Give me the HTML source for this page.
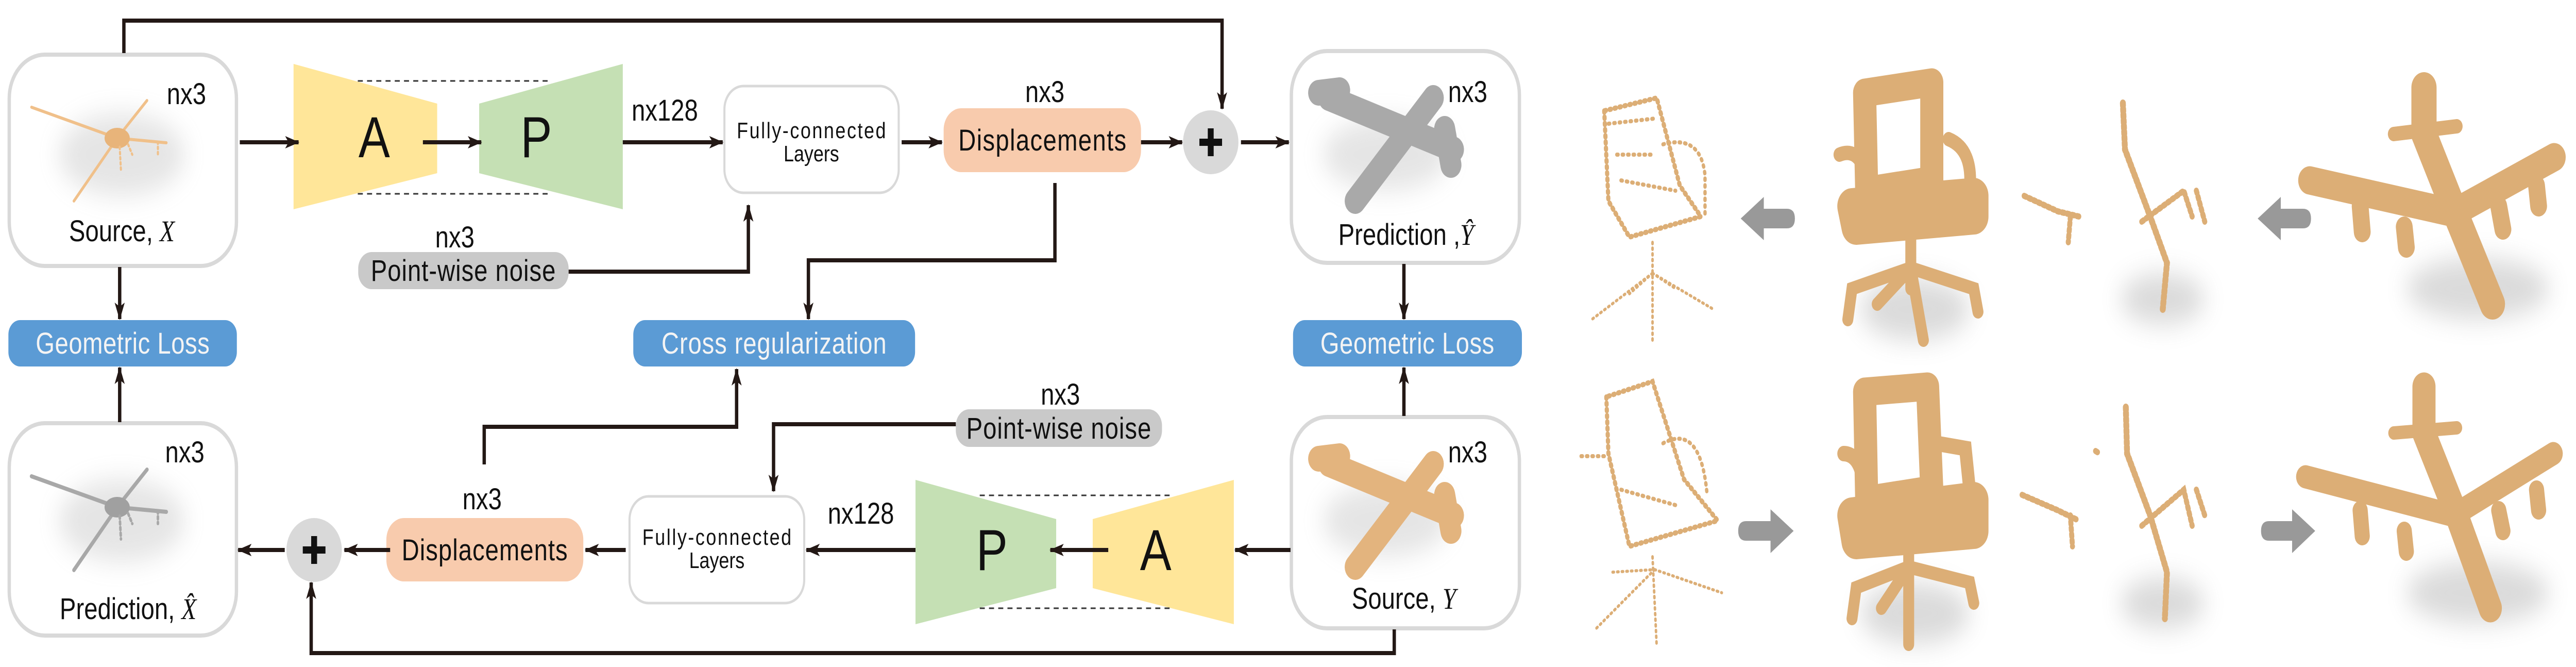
<!DOCTYPE html>
<html><head><meta charset="utf-8"><style>
html,body{margin:0;padding:0;background:#fff;overflow:hidden;width:100%;height:100%}
svg{display:block;position:absolute;left:0;top:0;width:100vw;height:100vh}
text{font-family:"Liberation Sans",sans-serif;fill:#111}
.w{fill:#f4f4f4}
</style></head><body>
<svg viewBox="0 0 6134 1294" preserveAspectRatio="none" xmlns="http://www.w3.org/2000/svg">
<defs>
<marker id="ar" markerUnits="userSpaceOnUse" markerWidth="36" markerHeight="28" refX="32" refY="12" orient="auto">
<path d="M0,0 L34,12 L0,24 L8,12 z" fill="#231815"/>
</marker>
<filter id="bl" x="-50%" y="-50%" width="200%" height="200%"><feGaussianBlur stdDeviation="25"/></filter>
</defs>

<g fill="#fff" stroke="#d9d9d9" stroke-width="8">
<rect x="22" y="106" width="541" height="410" rx="85"/>
<rect x="22" y="821" width="541" height="412" rx="85"/>
<rect x="3075" y="99" width="543" height="411" rx="85"/>
<rect x="3075" y="809" width="543" height="410" rx="85"/>
<rect x="1725" y="167" width="415" height="207" rx="45" stroke-width="5"/>
<rect x="1499" y="963" width="416" height="207" rx="45" stroke-width="5"/>
</g>

<g opacity="0.25" filter="url(#bl)"><ellipse cx="290" cy="300" rx="150" ry="80" fill="#999"/><ellipse cx="290" cy="1010" rx="150" ry="80" fill="#999"/><ellipse cx="3300" cy="300" rx="150" ry="70" fill="#999"/><ellipse cx="3300" cy="1010" rx="150" ry="70" fill="#999"/></g>
<g stroke="#f0c08a" stroke-linecap="round" fill="none">
<path d="M75,208 L279,268 L350,195 M176,390 L279,268 L396,277" stroke-width="6"/>
<ellipse cx="279" cy="268" rx="30" ry="20" fill="#e8b47a" stroke="none"/>
<path d="M285,285 L288,330 M305,280 L315,300 M376,275 L376,300" stroke-width="5" stroke-dasharray="4 6"/>
</g>
<g stroke="#a8a8a8" stroke-linecap="round" fill="none">
<path d="M75,924 L279,984 L350,911 M176,1106 L279,984 L396,993" stroke-width="8"/>
<ellipse cx="279" cy="984" rx="30" ry="20" fill="#a0a0a0" stroke="none"/>
<path d="M285,1001 L288,1046 M305,996 L315,1016 M376,991 L376,1016" stroke-width="6" stroke-dasharray="5 6"/>
</g>
<g stroke-linecap="round" fill="none">
<path d="M3164,190 L3461,290 M3227,390 L3413,190 M3140,180 L3190,175 M3440,250 L3455,320" stroke="#a9a9a9" stroke-width="50"/>
<path d="M3164,900 L3461,1000 M3227,1100 L3413,900 M3140,890 L3190,885 M3440,960 L3455,1030" stroke="#e3b47e" stroke-width="50"/>
</g>

<polygon points="699,124 1041,201 1041,336 699,406" fill="#ffe699"/>
<polygon points="1141,201 1483,124 1483,406 1141,336" fill="#c5e0b4"/>
<polygon points="2180,931 2515,1007 2515,1141 2180,1211" fill="#c5e0b4"/>
<polygon points="2602,1007 2938,931 2938,1211 2602,1141" fill="#ffe699"/>
<g stroke="#333" stroke-width="3" stroke-dasharray="12 10">
<path d="M852,157 H1312 M852,376 H1312 M2333,961 H2788 M2333,1180 H2788"/>
</g>
<text x="891" y="305" font-size="112" text-anchor="middle">A</text>
<text x="1277" y="305" font-size="112" text-anchor="middle">P</text>
<text x="2362" y="1106" font-size="112" text-anchor="middle">P</text>
<text x="2752" y="1106" font-size="112" text-anchor="middle">A</text>

<rect x="853" y="489" width="501" height="72" rx="32" fill="#c9c9c9"/>
<rect x="2276" y="794" width="491" height="73" rx="32" fill="#c9c9c9"/>
<rect x="20" y="621" width="544" height="90" rx="28" fill="#5b9bd5"/>
<rect x="1508" y="621" width="671" height="90" rx="28" fill="#5b9bd5"/>
<rect x="3079" y="621" width="545" height="90" rx="28" fill="#5b9bd5"/>
<rect x="2247" y="210" width="470" height="124" rx="42" fill="#f8cbad"/>
<rect x="920" y="1005" width="469" height="123" rx="42" fill="#f8cbad"/>
<ellipse cx="2883" cy="276" rx="66" ry="62" fill="#d9d9d9"/>
<ellipse cx="748" cy="1067" rx="66" ry="62" fill="#d9d9d9"/>
<g stroke="#111" stroke-width="14"><path d="M2856,276 H2910 M2883,249 V303 M721,1067 H775 M748,1040 V1094"/></g>

<g stroke="#231815" stroke-width="8" fill="none" marker-end="url(#ar)">
<path d="M295,103 V40 H2910 V211"/>
<path d="M571,276 H711"/>
<path d="M1007,276 H1146"/>
<path d="M1483,276 H1721"/>
<path d="M2147,276 H2243"/>
<path d="M2717,276 H2815"/>
<path d="M2955,276 H3069"/>
<path d="M1354,527 H1782 V398"/>
<path d="M2512,355 V505 H1925 V619"/>
<path d="M285,518 V619"/>
<path d="M285,819 V713"/>
<path d="M3343,512 V619"/>
<path d="M3343,807 V713"/>
<path d="M1153,901 V828 H1754 V716"/>
<path d="M2276,823 H1842 V953"/>
<path d="M3073,1067 H2941"/>
<path d="M2639,1067 H2501"/>
<path d="M2180,1067 H1920"/>
<path d="M1490,1067 H1394"/>
<path d="M929,1067 H820"/>
<path d="M678,1067 H567"/>
<path d="M3320,1221 V1267 H741 V1130"/>
</g>

<g font-size="58">
<text x="444" y="202" text-anchor="middle">nx3</text>
<text x="290" y="468" text-anchor="middle">Source, <tspan font-family="Liberation Serif" font-style="italic">X</tspan></text>
<text x="440" y="897" text-anchor="middle">nx3</text>
<text x="305" y="1201" text-anchor="middle">Prediction, <tspan font-family="Liberation Serif" font-style="italic">X̂</tspan></text>
<text x="3495" y="198" text-anchor="middle">nx3</text>
<text x="3348" y="475" text-anchor="middle">Prediction ,<tspan font-family="Liberation Serif" font-style="italic">Ŷ</tspan></text>
<text x="3495" y="897" text-anchor="middle">nx3</text>
<text x="3343" y="1181" text-anchor="middle">Source, <tspan font-family="Liberation Serif" font-style="italic">Y</tspan></text>
<text x="1504" y="234">nx128</text>
<text x="1971" y="1016">nx128</text>
<text x="1083" y="480" text-anchor="middle">nx3</text>
<text x="2525" y="785" text-anchor="middle">nx3</text>
<text x="2488" y="198" text-anchor="middle">nx3</text>
<text x="1148" y="988" text-anchor="middle">nx3</text>
<text x="1103" y="545" text-anchor="middle" textLength="440">Point-wise noise</text>
<text x="2521" y="851" text-anchor="middle" textLength="440">Point-wise noise</text>
<text x="2482" y="292" text-anchor="middle" textLength="400">Displacements</text>
<text x="1154" y="1087" text-anchor="middle" textLength="395">Displacements</text>
<text class="w" x="292" y="686" text-anchor="middle" textLength="414">Geometric Loss</text>
<text class="w" x="3351" y="686" text-anchor="middle" textLength="414">Geometric Loss</text>
<text class="w" x="1843" y="686" text-anchor="middle" textLength="536">Cross regularization</text>
</g>
<g font-size="44" text-anchor="middle">
<text x="1932" y="268" textLength="355">Fully-connected</text>
<text x="1932" y="313">Layers</text>
<text x="1707" y="1057" textLength="355">Fully-connected</text>
<text x="1707" y="1102">Layers</text>
</g>

<g opacity="0.3" filter="url(#bl)" fill="#888">
<ellipse cx="4560" cy="600" rx="130" ry="60"/><ellipse cx="4560" cy="1190" rx="130" ry="60"/>
<ellipse cx="5900" cy="560" rx="170" ry="60"/><ellipse cx="5900" cy="1150" rx="170" ry="60"/>
<ellipse cx="5150" cy="580" rx="100" ry="50"/><ellipse cx="5150" cy="1170" rx="100" ry="50"/>
</g>
<g fill="none" stroke="#dcae76" stroke-linecap="round">
<path d="M3820,215 L3830,390 L3880,460 L4050,420 L4000,360 L3945,190 Z" stroke-width="10" stroke-dasharray="3 9"/>
<path d="M3830,240 L3940,230 M3850,300 L3940,300 M3860,350 L3990,370 M3960,280 Q4050,260 4060,340 L4060,420" stroke-width="8" stroke-dasharray="3 10"/>
<path d="M3935,470 V660 M3935,530 L3790,620 M3935,530 L4080,600 M3935,530 L3880,570 M3935,530 L3990,560" stroke-width="6" stroke-dasharray="3 8"/>
<path d="M4440,180 L4600,160 L4600,350 L4445,370 Z" stroke-width="55" stroke-linejoin="round"/>
<path d="M4410,400 L4700,380 L4700,420 L4420,440 Z" stroke-width="70" stroke-linejoin="round"/>
<path d="M4380,300 Q4440,280 4450,380 M4640,270 Q4700,290 4690,370" stroke-width="28"/>
<path d="M4550,460 V560 M4550,520 L4410,560 L4400,620 M4550,520 L4700,560 L4710,605 M4550,520 L4580,660 M4550,520 L4470,590" stroke-width="26"/>
<path d="M5055,200 L5060,290 L5120,420 L5160,510 L5150,600" stroke-width="14" stroke-dasharray="5 6"/>
<path d="M4820,380 L4900,410 L4950,420 M4930,420 L4925,470 M5100,430 L5200,370 L5220,420 M5230,370 L5250,430" stroke-width="12" stroke-dasharray="5 7"/>
<path d="M5772,170 L5772,260 L5850,420 L5935,590" stroke-width="60"/>
<path d="M5500,350 L5842,413 L6082,305" stroke-width="55"/>
<path d="M5700,260 L5850,245" stroke-width="28"/>
<path d="M5620,400 L5625,450 M5725,440 L5730,480 M5950,400 L5960,445 M6040,360 L6045,400" stroke-width="40"/>
<path d="M3825,770 L3830,880 L3880,1060 L4090,1010 L4010,930 L3935,740 Z" stroke-width="10" stroke-dasharray="3 9"/>
<path d="M3765,885 L3830,885 M3860,950 L3990,980 M3960,860 Q4050,820 4065,960" stroke-width="8" stroke-dasharray="3 10"/>
<path d="M3935,1080 L3945,1255 M3940,1105 L3800,1220 M3940,1105 L4100,1150 M3840,1110 L3940,1105" stroke-width="6" stroke-dasharray="3 8"/>
<path d="M4440,760 L4590,750 L4600,950 L4445,970 Z" stroke-width="55" stroke-linejoin="round"/>
<path d="M4410,1000 L4700,970 L4700,1030 L4420,1050 Z" stroke-width="70" stroke-linejoin="round"/>
<path d="M4390,880 Q4440,880 4440,980 M4610,860 L4680,870 L4690,950" stroke-width="30"/>
<path d="M4545,1060 V1250 M4545,1100 L4420,1140 L4410,1200 M4545,1100 L4690,1130 L4700,1170 M4545,1100 L4480,1180" stroke-width="26"/>
<path d="M5062,790 L5065,880 L5120,1000 L5160,1110 L5155,1200" stroke-width="14" stroke-dasharray="5 6"/>
<path d="M4815,960 L4900,990 L4950,1010 M4930,1000 L4935,1060 M5100,1020 L5200,950 L5220,1020 M5230,950 L5250,1000 M4990,875 L5000,880" stroke-width="12" stroke-dasharray="5 7"/>
<path d="M5772,750 L5772,840 L5850,1000 L5930,1180" stroke-width="55"/>
<path d="M5490,925 L5842,1000 L6080,880" stroke-width="45"/>
<path d="M5700,840 L5850,830" stroke-width="26"/>
<path d="M5620,990 L5625,1040 M5725,1030 L5730,1070 M5950,990 L5960,1030 M6040,950 L6045,990" stroke-width="36"/>
</g>
<g fill="#999">
<path d="M4145,424 L4200,382 L4200,405 L4255,405 Q4274,405 4274,424 Q4274,443 4255,443 L4200,443 L4200,466 Z"/>
<path d="M5376,424 L5431,382 L5431,405 L5484,405 Q5503,405 5503,424 Q5503,443 5484,443 L5431,443 L5431,466 Z"/>
<path d="M4271,1030 L4216,988 L4216,1011 L4158,1011 Q4139,1011 4139,1030 Q4139,1049 4158,1049 L4216,1049 L4216,1073 Z"/>
<path d="M5513,1030 L5458,988 L5458,1011 L5403,1011 Q5384,1011 5384,1030 Q5384,1049 5403,1049 L5458,1049 L5458,1073 Z"/>
</g>
</svg>
</body></html>
